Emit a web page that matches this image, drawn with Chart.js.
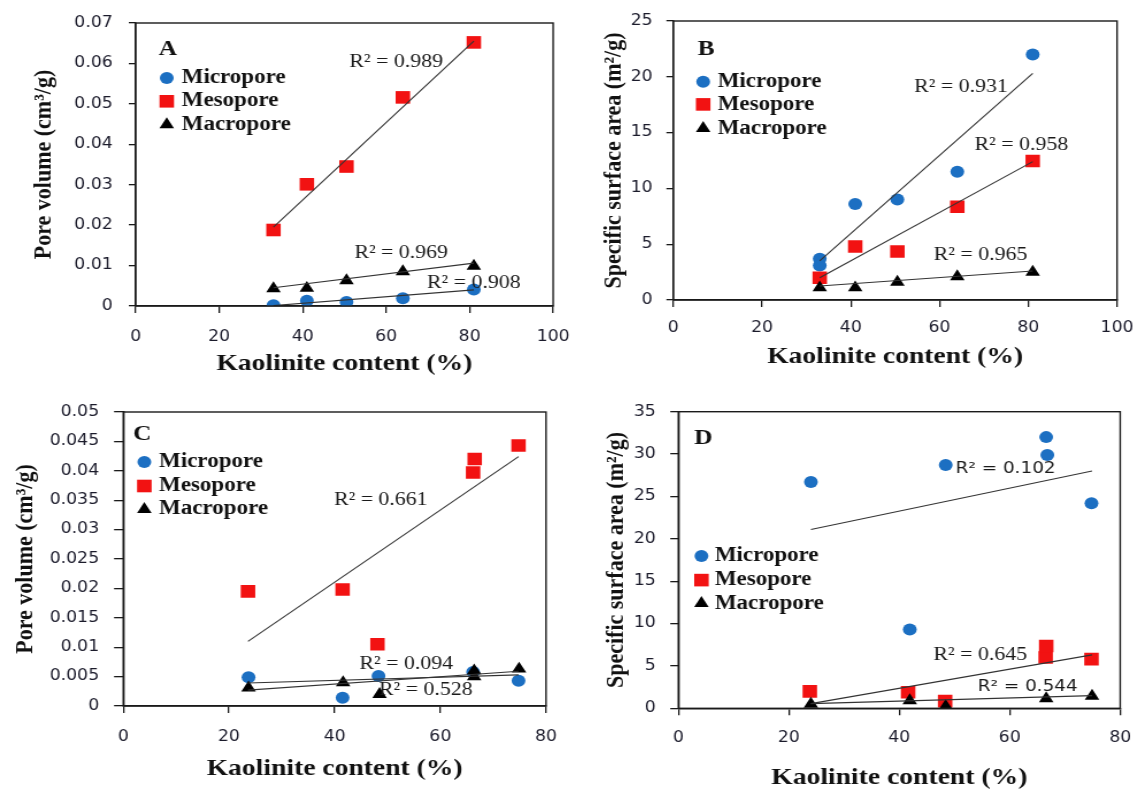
<!DOCTYPE html>
<html>
<head>
<meta charset="utf-8">
<script src="https://cdn.jsdelivr.net/npm/chart.js@4.4.0/dist/chart.umd.min.js"></script>
<style>
  body { margin: 0; background: #fff; width: 1148px; height: 792px; overflow: hidden; position: relative; }
  canvas { position: absolute; transform: scaleX(1.15); transform-origin: 0 0; }
</style>
</head>
<body>
<canvas id="chartA" width="513" height="390" style="left:0px;top:0px"></canvas>
<canvas id="chartB" width="502" height="390" style="left:570px;top:0px"></canvas>
<canvas id="chartC" width="513" height="402" style="left:0px;top:390px"></canvas>
<canvas id="chartD" width="502" height="402" style="left:570px;top:390px"></canvas>
<script>
// ---- Panel A: pore volume (cm3/g)
const kaoA = [33, 41, 50.5, 64, 81];
const microA = [0.0002, 0.0013, 0.0010, 0.0019, 0.0041];
const mesoA = [0.0188, 0.0301, 0.0345, 0.0516, 0.0652];
const macroA = [0.0043, 0.0044, 0.0063, 0.0085, 0.0099];
const fitKaoA = [33, 81];
const fitMicroA = [0.0001, 0.0040];
const fitMesoA = [0.0195, 0.0655];
const fitMacroA = [0.0045, 0.0106];
const yTicksA = [0, 0.01, 0.02, 0.03, 0.04, 0.05, 0.06, 0.07];

// ---- Panel B: specific surface area (m2/g)
const kaoB = [33, 41, 50.5, 64, 81];
const kaoMicroB = [33, 33, 41, 50.5, 64, 81];
const microB = [3.7, 3.1, 8.6, 9.0, 11.5, 22.0];
const mesoB = [2.0, 4.8, 4.35, 8.35, 12.45];
const macroB = [1.1, 1.1, 1.6, 2.1, 2.5];
const fitKaoB = [33, 81];
const fitMicroB = [3.5, 20.3];
const fitMesoB = [2.0, 12.4];
const fitMacroB = [1.25, 2.6];
const yTicksB = [0, 5, 10, 15, 20, 25];

// ---- Panel C: pore volume (cm3/g)
const kaoMicroC = [23.7, 41.5, 48.3, 66.2, 74.8];
const microC = [0.0049, 0.0014, 0.0051, 0.0058, 0.0043];
const kaoMesoC = [23.6, 41.5, 48.1, 66.2, 66.5, 74.8];
const mesoC = [0.0195, 0.0198, 0.0105, 0.0397, 0.0420, 0.0443];
const kaoMacroC = [23.7, 41.6, 48.5, 66.4, 66.4, 74.9];
const macroC = [0.0031, 0.0040, 0.0020, 0.0060, 0.0050, 0.0063];
const fitKaoC = [23.6, 74.8];
const fitMicroC = [0.0039, 0.0053];
const fitMesoC = [0.0110, 0.0424];
const fitMacroC = [0.0027, 0.0059];
const yTicksC = [0, 0.005, 0.01, 0.015, 0.02, 0.025, 0.03, 0.035, 0.04, 0.045, 0.05];

// ---- Panel D: specific surface area (m2/g)
const kaoMicroD = [24, 41.9, 48.4, 66.6, 66.8, 74.8];
const microD = [26.7, 9.3, 28.7, 32.0, 29.9, 24.2];
const kaoMesoD = [23.8, 41.6, 48.3, 66.5, 66.6, 74.8];
const mesoD = [2.0, 1.9, 0.85, 6.0, 7.35, 5.8];
const kaoMacroD = [24, 41.9, 48.4, 66.6, 74.9];
const macroD = [0.5, 0.9, 0.25, 1.15, 1.45];
const fitKaoD = [24, 74.9];
const fitMicroD = [21.1, 28.0];
const fitMesoD = [0.55, 6.3];
const fitMacroD = [0.55, 1.5];
const yTicksD = [0, 5, 10, 15, 20, 25, 30, 35];

const xTicks100 = [0, 20, 40, 60, 80, 100];
const xTicks80 = [0, 20, 40, 60, 80];
const seriesNames = ['Micropore', 'Mesopore', 'Macropore'];

const BLUE = '#1c6fc2';
const RED = '#f21212';
const BLACK = '#000';
const SERIF = '"Liberation Serif", "Times New Roman", serif';
const SANS = '"DejaVu Sans", Verdana, sans-serif';

function pts(xs, ys) {
  return xs.map((x, i) => ({ x: x, y: ys[i] }));
}

// legend markers drawn to match the chart's own point styles
function marker(ctx, kind, x, y) {
  ctx.beginPath();
  if (kind === 0) {
    ctx.fillStyle = BLUE;
    ctx.arc(x, y, 6, 0, Math.PI * 2);
  } else if (kind === 1) {
    ctx.fillStyle = RED;
    ctx.rect(x - 6.3, y - 6.3, 12.6, 12.6);
  } else {
    ctx.fillStyle = BLACK;
    ctx.moveTo(x, y - 7.3);
    ctx.lineTo(x + 6.3, y + 3.65);
    ctx.lineTo(x - 6.3, y + 3.65);
    ctx.closePath();
  }
  ctx.fill();
}

const panelDecor = {
  id: 'panelDecor',
  afterDatasetsDraw(chart, args, o) {
    const { ctx, chartArea: a, scales } = chart;
    ctx.save();
    ctx.strokeStyle = '#1a1a1a';
    ctx.lineWidth = 1.4;
    ctx.strokeRect(a.left, a.top, a.right - a.left, a.bottom - a.top);

    ctx.fillStyle = '#111';
    ctx.textAlign = 'left';
    ctx.textBaseline = 'middle';
    ctx.font = 'bold 22px ' + SERIF;
    ctx.fillText(o.letter, a.left + o.letterX, a.top + o.letterY);

    ctx.font = 'bold 20px ' + SERIF;
    o.rows.forEach((ry, i) => {
      marker(ctx, i, a.left + o.markX, a.top + ry);
      ctx.fillStyle = '#111';
      ctx.fillText(seriesNames[i], a.left + o.textX, a.top + ry);
    });

    o.r2.forEach(r => {
      ctx.font = r.sans ? '16px ' + SANS : '19px ' + SERIF;
      ctx.fillStyle = '#1a1a1a';
      ctx.fillText(r.text, scales.x.getPixelForValue(r.x), scales.y.getPixelForValue(r.y));
    });
    ctx.restore();
  }
};

function makePanel(id, p) {
  const scatter = (data, style, color, radius, order) => ({
    data: data,
    pointStyle: style,
    pointRadius: radius,
    pointHoverRadius: radius,
    pointBackgroundColor: color,
    pointBorderColor: color,
    pointBorderWidth: 0,
    showLine: false,
    order: order
  });
  const fit = (data) => ({
    type: 'line',
    data: data,
    showLine: true,
    borderColor: '#333',
    borderWidth: 1.1,
    pointRadius: 0,
    fill: false,
    order: 1
  });

  new Chart(document.getElementById(id), {
    type: 'scatter',
    data: {
      datasets: [
        scatter(p.micro, 'circle', BLUE, 6, 4),
        scatter(p.meso, 'rect', RED, 8.9, 3),
        scatter(p.macro, 'triangle', BLACK, 7.3, 2),
        fit(p.fitMicro),
        fit(p.fitMeso),
        fit(p.fitMacro)
      ]
    },
    options: {
      responsive: false,
      animation: false,
      devicePixelRatio: 1,
      layout: { padding: { top: p.padTop, right: p.padRight, left: 0, bottom: 0 } },
      plugins: {
        legend: { display: false },
        tooltip: { enabled: false },
        panelDecor: p.decor
      },
      scales: {
        x: {
          type: 'linear',
          min: 0,
          max: p.xMax,
          afterBuildTicks: s => { s.ticks = p.xTicks.map(v => ({ value: v })); },
          afterFit: s => { s.height = p.xAxisH; },
          grid: { drawOnChartArea: false, drawTicks: true, tickLength: 7, color: '#1a1a1a', lineWidth: 1.3 },
          border: { color: '#1a1a1a', width: 1.4 },
          ticks: { padding: p.xTickPad, color: '#1b1b2b', font: { family: SANS, size: 15 }, maxRotation: 0 },
          title: {
            display: true,
            text: 'Kaolinite content (%)',
            color: '#111',
            font: { family: SERIF, size: 24, weight: 'bold', lineHeight: 1.2 },
            padding: { top: 0, bottom: p.xTitlePad }
          }
        },
        y: {
          type: 'linear',
          min: 0,
          max: p.yTicks[p.yTicks.length - 1],
          afterBuildTicks: s => { s.ticks = p.yTicks.map(v => ({ value: v })); },
          afterFit: s => { s.width = p.yAxisW; },
          grid: { drawOnChartArea: false, drawTicks: true, tickLength: p.yTickLen, color: '#1a1a1a', lineWidth: 1.3 },
          border: { color: '#1a1a1a', width: 1.4 },
          ticks: { padding: p.yTickPad, color: '#1b1b2b', font: { family: SANS, size: 15 }, callback: v => String(v) },
          title: {
            display: true,
            text: p.yTitle,
            color: '#111',
            font: { family: SERIF, size: 22, weight: 'bold', lineHeight: 1.2 },
            padding: { top: p.yTitlePad, bottom: 0 }
          }
        }
      }
    },
    plugins: [panelDecor]
  });
}

makePanel('chartA', {
  micro: pts(kaoA, microA), meso: pts(kaoA, mesoA), macro: pts(kaoA, macroA),
  fitMicro: pts(fitKaoA, fitMicroA), fitMeso: pts(fitKaoA, fitMesoA), fitMacro: pts(fitKaoA, fitMacroA),
  xMax: 100, xTicks: xTicks100, yTicks: yTicksA,
  yTitle: 'Pore volume (cm³/g)',
  padTop: 17, padRight: 32, yAxisW: 118, xAxisH: 84,
  yTitlePad: 25, xTitlePad: 11.6, xTickPad: 15, yTickLen: 6, yTickPad: 14,
  decor: {
    letter: 'A', letterX: 20, letterY: 26, markX: 27, textX: 40, rows: [55, 78.3, 101.6],
    r2: [
      { text: 'R² = 0.989', x: 51.2, y: 0.0603 },
      { text: 'R² = 0.969', x: 52.4, y: 0.0131 },
      { text: 'R² = 0.908', x: 69.8, y: 0.0056 }
    ]
  }
});

makePanel('chartB', {
  micro: pts(kaoMicroB, microB), meso: pts(kaoB, mesoB), macro: pts(kaoB, macroB),
  fitMicro: pts(fitKaoB, fitMicroB), fitMeso: pts(fitKaoB, fitMesoB), fitMacro: pts(fitKaoB, fitMacroB),
  xMax: 100, xTicks: xTicks100, yTicks: yTicksB,
  yTitle: 'Specific surface area (m²/g)',
  padTop: 18.3, padRight: 19.4, yAxisW: 89.8, xAxisH: 90,
  yTitlePad: 25.4, xTitlePad: 19, xTickPad: 12, yTickLen: 6, yTickPad: 12,
  decor: {
    letter: 'B', letterX: 21.3, letterY: 28.4, markX: 26, textX: 38.6, rows: [60.7, 83.4, 107.4],
    r2: [
      { text: 'R² = 0.931', x: 54.3, y: 19.06 },
      { text: 'R² = 0.958', x: 67.9, y: 13.87 },
      { text: 'R² = 0.965', x: 58.7, y: 4.01 }
    ]
  }
});

makePanel('chartC', {
  micro: pts(kaoMicroC, microC), meso: pts(kaoMesoC, mesoC), macro: pts(kaoMacroC, macroC),
  fitMicro: pts(fitKaoC, fitMicroC), fitMeso: pts(fitKaoC, fitMesoC), fitMacro: pts(fitKaoC, fitMacroC),
  xMax: 80, xTicks: xTicks80, yTicks: yTicksC,
  yTitle: 'Pore volume (cm³/g)',
  padTop: 11, padRight: 38.2, yAxisW: 107.2, xAxisH: 86,
  yTitlePad: 9, xTitlePad: 9.3, xTickPad: 14.7, yTickLen: 8, yTickPad: 13,
  decor: {
    letter: 'C', letterX: 8.6, letterY: 22.3, markX: 18.3, textX: 31.1, rows: [50, 74, 97.3],
    r2: [
      { text: 'R² = 0.661', x: 39.9, y: 0.0350 },
      { text: 'R² = 0.094', x: 44.7, y: 0.0071 },
      { text: 'R² = 0.528', x: 48.4, y: 0.0028 }
    ]
  }
});

makePanel('chartD', {
  micro: pts(kaoMicroD, microD), meso: pts(kaoMesoD, mesoD), macro: pts(kaoMacroD, macroD),
  fitMicro: pts(fitKaoD, fitMicroD), fitMeso: pts(fitKaoD, fitMesoD), fitMacro: pts(fitKaoD, fitMacroD),
  xMax: 80, xTicks: xTicks80, yTicks: yTicksD,
  yTitle: 'Specific surface area (m²/g)',
  padTop: 12.3, padRight: 12.7, yAxisW: 94.2, xAxisH: 83.7,
  yTitlePad: 26.7, xTitlePad: 0, xTickPad: 14, yTickLen: 7, yTickPad: 12.7,
  decor: {
    letter: 'D', letterX: 13.7, letterY: 27, markX: 20.1, textX: 31.7, rows: [144.4, 168.4, 191.7],
    r2: [
      { text: 'R² = 0.102', x: 50.2, y: 28.2, sans: true },
      { text: 'R² = 0.645', x: 46.2, y: 6.29 },
      { text: 'R² = 0.544', x: 54.2, y: 2.48, sans: true }
    ]
  }
});
</script>
</body>
</html>
